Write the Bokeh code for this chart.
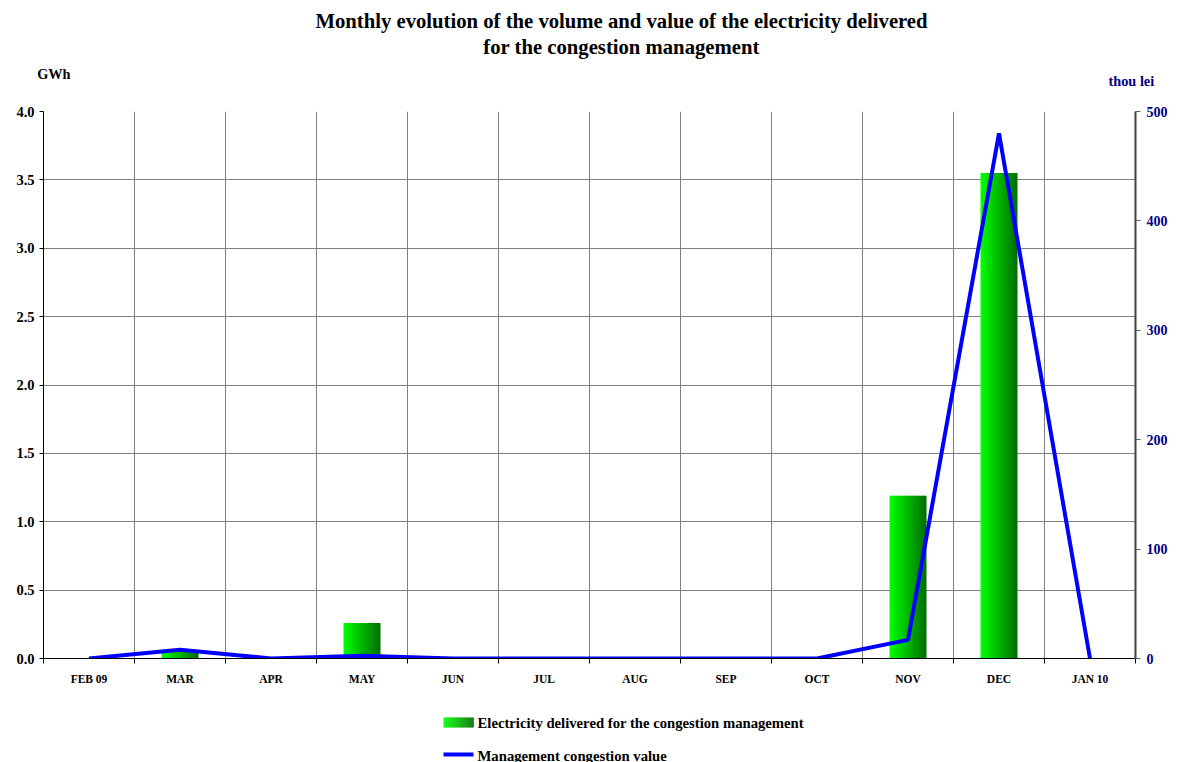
from bokeh.plotting import figure
from bokeh.models import (Range1d, LinearAxis, FixedTicker, NumeralTickFormatter,
                          ColumnDataSource, Label)
from bokeh.layouts import column
from bokeh.transform import dodge
from bokeh.embed import file_html
from bokeh.resources import INLINE

months = ["FEB 09", "MAR", "APR", "MAY", "JUN", "JUL", "AUG", "SEP", "OCT", "NOV", "DEC", "JAN 10"]
volume_gwh = [0.0, 0.05, 0.0, 0.26, 0.0, 0.0, 0.0, 0.0, 0.0, 1.19, 3.55, 0.0]
value_thou_lei = [0, 8, 0, 2.5, 0, 0, 0, 0, 0, 17, 480, 0]
left_ticks = [0.0, 0.5, 1.0, 1.5, 2.0, 2.5, 3.0, 3.5, 4.0]
right_ticks = [0, 100, 200, 300, 400, 500]
left_unit = "GWh"
right_unit = "thou lei"

FONT = "Liberation Serif"
W = 1178
TOP_H = 100
MAIN_H = 605
LEG_H = 57
FRAME_L, FRAME_R = 43, 1135   # page x of the plotting frame (shared by all strips)


def lerp(a, b, t):
    return int(round(a + (b - a) * t))


def green(t):
    return "#%02x%02x%02x" % (0, lerp(255, 112, t), 0)


def blank_fig(h, y0, y1):
    f = figure(width=W, height=h, output_backend="svg", toolbar_location=None,
               x_range=Range1d(FRAME_L, FRAME_R), y_range=Range1d(y1, y0),
               x_axis_type=None, y_axis_type=None,
               min_border_left=FRAME_L, min_border_right=W - FRAME_R,
               min_border_top=0, min_border_bottom=0)
    f.outline_line_color = None
    f.xgrid.visible = False
    f.ygrid.visible = False
    return f


def label(f, text, x, y, size, color="black", align="left"):
    f.add_layout(Label(x=x, y=y, text=text, text_font=FONT, text_font_style="bold",
                       text_font_size=size, text_color=color, text_align=align,
                       text_baseline="middle"))


def unit_axis(f, text, y, color, standoff):
    ax = LinearAxis(ticker=FixedTicker(ticks=[y]), major_label_overrides={y: text})
    ax.axis_line_color = None
    ax.major_tick_line_color = None
    ax.minor_tick_line_color = None
    ax.major_tick_out = 0
    ax.major_tick_in = 0
    ax.major_label_standoff = standoff
    ax.major_label_text_font = FONT
    ax.major_label_text_font_style = "bold"
    ax.major_label_text_font_size = "14.3px"
    ax.major_label_text_color = color
    return ax


# ---------- title strip ----------
top = blank_fig(TOP_H, 0, TOP_H)
label(top, "Monthly evolution of the volume and value of the electricity delivered", 621, 20, "20.7px", align="center")
label(top, "for the congestion management", 621, 46, "20.7px", align="center")
top.add_layout(unit_axis(top, left_unit, 73, "black", -27), "left")
top.add_layout(unit_axis(top, right_unit, 80, "#000080", -27), "right")

# ---------- main chart ----------
xc = [i + 0.5 for i in range(len(months))]
src = ColumnDataSource(dict(x=xc, vol=volume_gwh, val=value_thou_lei))

p = figure(width=W, height=MAIN_H, output_backend="svg", toolbar_location=None,
           x_range=Range1d(0, len(months)), y_range=Range1d(0, 4),
           min_border_left=FRAME_L, min_border_right=W - FRAME_R,
           min_border_top=11, min_border_bottom=47)
p.outline_line_color = None
p.extra_y_ranges = {"val": Range1d(0, 500)}

N = 36
bw = 0.40
sw = bw / N
for k in range(N):
    t = k / (N - 1)
    off = -bw / 2 + sw * (k + 0.5)
    p.vbar(x=dodge("x", off, range=p.x_range), top="vol", width=sw * 1.6, source=src,
           fill_color=green(t), line_color=None)

p.line(x="x", y="val", source=src, y_range_name="val", line_color="#0000ff", line_width=4)

xa = p.xaxis[0]
xa.ticker = FixedTicker(ticks=xc, minor_ticks=list(range(len(months) + 1)))
xa.major_label_overrides = {x: m for x, m in zip(xc, months)}
xa.major_tick_out = 0
xa.major_tick_in = 0
xa.minor_tick_out = 5
xa.minor_tick_in = 0
xa.minor_tick_line_color = "black"
xa.axis_line_color = "black"
xa.major_label_text_font = FONT
xa.major_label_text_font_style = "bold"
xa.major_label_text_font_size = "11.5px"
xa.major_label_text_color = "black"
xa.major_label_standoff = 9

ya = p.yaxis[0]
ya.ticker = FixedTicker(ticks=left_ticks)
ya.formatter = NumeralTickFormatter(format="0.0")
ya.axis_line_color = "black"
ya.major_tick_line_color = "black"
ya.major_tick_out = 4
ya.major_tick_in = 0
ya.minor_tick_line_color = None
ya.major_label_text_font = FONT
ya.major_label_text_font_style = "bold"
ya.major_label_text_font_size = "14.5px"
ya.major_label_text_color = "black"
ya.major_label_standoff = 5

ra = LinearAxis(y_range_name="val", ticker=FixedTicker(ticks=right_ticks))
ra.axis_line_color = "#404040"
ra.axis_line_width = 2
ra.major_tick_line_color = "#606060"
ra.major_tick_out = 5
ra.major_tick_in = 0
ra.minor_tick_line_color = None
ra.major_label_text_font = FONT
ra.major_label_text_font_style = "bold"
ra.major_label_text_font_size = "14px"
ra.major_label_text_color = "#000080"
ra.major_label_standoff = 6
p.add_layout(ra, "right")

p.xgrid.ticker = FixedTicker(ticks=list(range(len(months) + 1)))
p.xgrid.grid_line_color = "#808080"
p.ygrid.ticker = FixedTicker(ticks=left_ticks)
p.ygrid.grid_line_color = "#808080"

# ---------- legend strip ----------
Y0 = TOP_H + MAIN_H
leg = blank_fig(LEG_H, Y0, Y0 + LEG_H)
M = 30
lefts = [443 + k for k in range(M)]
leg.quad(left=lefts, right=[l + 1.3 for l in lefts], top=[717] * M, bottom=[727] * M,
         fill_color=[green(k / (M - 1)) for k in range(M)], line_color=None)
label(leg, "Electricity delivered for the congestion management", 477, 722, "14.7px")
leg.line(x=[443, 473], y=[754, 754], line_color="#0000ff", line_width=4)
label(leg, "Management congestion value", 477, 755, "14.7px")

layout = column(top, p, leg, spacing=0)
open("out.html", "w").write(file_html(layout, INLINE))
